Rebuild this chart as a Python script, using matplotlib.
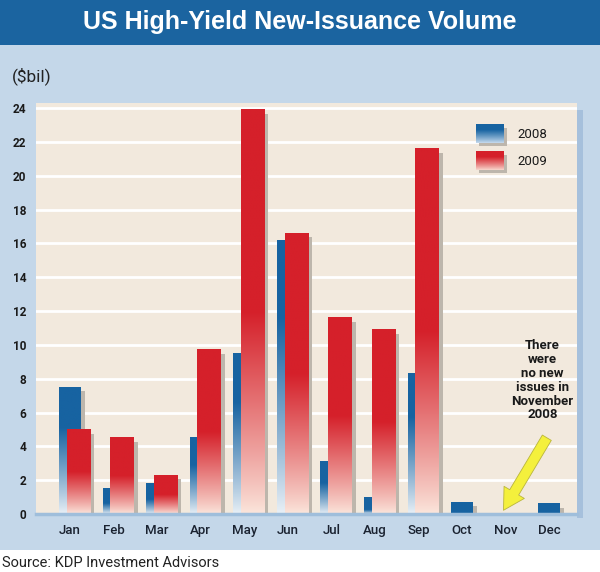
import numpy as np
import matplotlib
matplotlib.use("Agg")
import matplotlib.pyplot as plt
from matplotlib.patches import Rectangle, FancyArrowPatch
from matplotlib.colors import to_rgb

months = ["Jan", "Feb", "Mar", "Apr", "May", "Jun", "Jul", "Aug", "Sep", "Oct", "Nov", "Dec"]
vol_2008 = [7.5, 1.5, 1.8, 4.5, 9.5, 16.2, 3.1, 1.0, 8.3, 0.7, 0.0, 0.6]
vol_2009 = [5.0, 4.5, 2.3, 9.7, 23.9, 16.6, 11.6, 10.9, 21.6, np.nan, np.nan, np.nan]
yticks = [0, 2, 4, 6, 8, 10, 12, 14, 16, 18, 20, 22, 24]
series_labels = ["2008", "2009"]

TITLE_BG = "#1b64a0"
PANEL_BG = "#c4d7e9"
PLOT_BG = "#f2e9dd"
BLUE = "#1763a1"
BLUE_LIGHT = "#eaf1f7"
RED = "#d5202a"
RED_LIGHT = "#fbe6dc"
SHADOW = "#bdb6ac"

font_main = ["Roboto", "DejaVu Sans"]
font_bold = ["Liberation Sans", "DejaVu Sans"]

fig = plt.figure(figsize=(6.0, 5.72), dpi=100)
fig.patch.set_facecolor("white")

# panels
fig.patches.append(Rectangle((0, 1 - 550 / 572), 1, (550 - 45) / 572, transform=fig.transFigure,
                             facecolor=PANEL_BG, edgecolor="none", zorder=-2))
fig.patches.append(Rectangle((0, 1 - 45 / 572), 1, 45 / 572, transform=fig.transFigure,
                             facecolor=TITLE_BG, edgecolor="none", zorder=-2))
# plot shadow on right
fig.patches.append(Rectangle((577 / 600, 1 - 518 / 572), 6 / 600, (518 - 110) / 572,
                             transform=fig.transFigure, facecolor="#a6c0dc", edgecolor="none", zorder=-1))

fig.text(0.5, 1 - 22 / 572, "US High-Yield New-Issuance Volume", ha="center", va="center",
         color="white", fontsize=18, fontweight="bold", family=font_bold)
fig.text(12 / 600, 1 - 76 / 572, "($bil)", ha="left", va="center", color="#222222",
         fontsize=12.5, family=font_main)
fig.text(2 / 600, 1 - 563 / 572, "Source: KDP Investment Advisors", ha="left", va="center",
         color="#222222", fontsize=10.5, family=font_main)

ax = fig.add_axes([36 / 600, 1 - 514 / 572, (577 - 36) / 600, (514 - 103) / 572])
ax.set_zorder(2)
ax.set_facecolor(PLOT_BG)

for y in yticks[1:]:
    ax.axhline(y, color="white", lw=2.0, zorder=1)

def grad_img(c_top, c_bot, fade_frac):
    n = 200
    t = np.linspace(0, 1, n)  # 0 bottom -> 1 top
    if fade_frac <= 0:
        w = np.ones(n)
    else:
        w = np.clip(t / fade_frac, 0, 1) ** 0.9
    top = np.array(to_rgb(c_top))
    bot = np.array(to_rgb(c_bot))
    rgb = bot[None, :] * (1 - w[:, None]) + top[None, :] * w[:, None]
    return rgb[:, None, :]

red_img = grad_img(RED, RED_LIGHT, 0.5)

x = np.arange(len(months))
wb, wr = 0.50, 0.53
off_r = 0.19
sx, sy = 0.10, 0.25

for i in range(len(months)):
    b = vol_2008[i]
    if b > 0:
        fade = max(0.75 * b - 0.5, 0) / b
        ax.add_patch(Rectangle((x[i] - wb / 2 + sx, 0), wb, max(b - sy, 0), facecolor=SHADOW,
                               edgecolor="none", zorder=2))
        ax.imshow(grad_img(BLUE, BLUE_LIGHT, fade), extent=(x[i] - wb / 2, x[i] + wb / 2, 0, b),
                  origin="lower", aspect="auto", zorder=3, interpolation="bilinear")
    r = vol_2009[i]
    if not np.isnan(r):
        xr = x[i] + off_r - wr / 2
        ax.add_patch(Rectangle((xr + sx, 0), wr, r - sy, facecolor=SHADOW,
                               edgecolor="none", zorder=4))
        ax.imshow(red_img, extent=(xr, xr + wr, 0, r), origin="lower",
                  aspect="auto", zorder=5, interpolation="bilinear")

# legend (manual)
leg_blue = grad_img(BLUE, "#c9dcee", 0.7)
leg_red = grad_img(RED, "#f8d9cf", 0.7)
leg = [(9.32, 21.95, leg_blue, series_labels[0]), (9.32, 20.35, leg_red, series_labels[1])]
for lx, ly, img, lab in leg:
    ax.add_patch(Rectangle((lx + 0.08, ly - 0.2), 0.64, 1.1, facecolor=SHADOW,
                           edgecolor="none", zorder=4))
    ax.imshow(img, extent=(lx, lx + 0.64, ly, ly + 1.1), origin="lower", aspect="auto",
              zorder=5, interpolation="bilinear")
    ax.text(lx + 0.95, ly + 0.5, lab, ha="left", va="center", fontsize=9.5,
            color="#1a1a1a", family=font_main)

ax.set_xlim(-0.78, 11.64)
ax.set_ylim(0, 24.3)

ax.set_yticks(yticks)
ax.set_yticklabels([str(v) for v in yticks], fontsize=8.5, fontweight="bold",
                   color="#1a1a1a", family=font_main)
ax.set_xticks(x)
ax.set_xticklabels(months, fontsize=9.5, fontweight="medium", color="#1a2230", family=font_main)
ax.tick_params(axis="y", length=0, pad=7)
ax.tick_params(axis="x", length=0, pad=7)
for s in ["top", "right", "left"]:
    ax.spines[s].set_visible(False)
ax.spines["bottom"].set_color("#9fbedb")
ax.spines["bottom"].set_linewidth(2.5)
ax.spines["bottom"].set_zorder(6)

ax.text(10.85, 7.9, "There\nwere\nno new\nissues in\nNovember\n2008",
        ha="center", va="center", fontsize=9.5, fontweight="bold", color="#1a1a1a",
        family=font_main, linespacing=1.08, zorder=7)
arrow = FancyArrowPatch((10.98, 4.65), (9.92, 0.08),
                        arrowstyle="simple,head_length=1.5,head_width=1.7,tail_width=0.75",
                        mutation_scale=10, facecolor="#f4f03c", edgecolor="#b9b53c",
                        lw=0.6, zorder=7)
ax.add_patch(arrow)

fig.savefig("out.png", dpi=100, facecolor=fig.get_facecolor())
